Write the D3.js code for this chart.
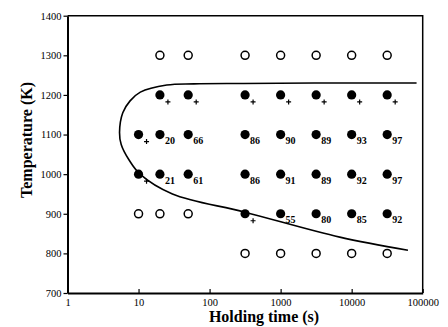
<!DOCTYPE html>
<html>
<head>
<meta charset="utf-8">
<script src="https://cdn.jsdelivr.net/npm/d3@7"></script>
<style>
  body { margin: 0; background: #fff; }
  svg { display: block; font-family: "Liberation Serif", "Times New Roman", serif; }
</style>
</head>
<body>
<div id="chart"></div>
<script>
// holding times (s) of the columns, temperatures (K) of the rows
const times = [10, 20, 50, 316, 1000, 3162, 10000, 31623];
const rowTemps = [1300, 1200, 1100, 1000, 900, 800];
// cell: "" none, "o" open circle, "+" filled with plus, number = filled with value
const rowCells = [
  ["", "o", "o", "o", "o", "o", "o", "o"],
  ["", "+", "+", "+", "+", "+", "+", "+"],
  ["+", "20", "66", "86", "90", "89", "93", "97"],
  ["+", "21", "61", "86", "91", "89", "92", "97"],
  ["o", "o", "o", "+", "55", "80", "85", "92"],
  ["", "", "", "o", "o", "o", "o", "o"]
];

// boundary curve
const curveTime = [82000, 3000, 300, 60, 25, 10.6, 7.6, 6.0, 5.4, 5.7, 7.4, 10.5, 30, 316, 6800, 62000];
const curveTemp = [1230, 1230, 1229, 1228, 1225, 1207, 1185, 1155, 1105, 1075, 1035, 1000, 950, 904, 841, 808];

const xTicks = [1, 10, 100, 1000, 10000, 100000];
const yTicks = [700, 800, 900, 1000, 1100, 1200, 1300, 1400];

const width = 448;
const height = 327;
const margin = { left: 67.5, right: 25.3, top: 15.7, bottom: 34 };

const svg = d3.select("#chart").append("svg")
  .attr("width", width)
  .attr("height", height);

const x = d3.scaleLog().domain([1, 100000]).range([margin.left, width - margin.right]);
const y = d3.scaleLinear().domain([700, 1400]).range([height - margin.bottom, margin.top]);

// frame top / right
svg.append("path")
  .attr("d", `M${x(1)},${y(1400)}H${x(100000)}V${y(700)}`)
  .attr("fill", "none")
  .attr("stroke", "#000")
  .attr("stroke-width", 1.5);

// axes
const xAxis = svg.append("g")
  .attr("transform", `translate(0,${y(700)})`)
  .call(d3.axisBottom(x).tickValues(xTicks).tickFormat(d3.format("d"))
    .tickSizeInner(-4).tickSizeOuter(0).tickPadding(6));
const yAxis = svg.append("g")
  .attr("transform", `translate(${x(1)},0)`)
  .call(d3.axisLeft(y).tickValues(yTicks).tickFormat(d3.format("d"))
    .tickSizeInner(4).tickSizeOuter(0).tickPadding(2));

[xAxis, yAxis].forEach(a => {
  a.select(".domain").attr("stroke-width", 2);
  a.selectAll(".tick line").attr("stroke-width", 1.2);
  a.selectAll(".tick text")
    .attr("font-family", "Liberation Serif")
    .attr("font-size", 10.5)
    .attr("fill", "#000");
});

// titles
svg.append("text")
  .attr("x", 264)
  .attr("y", 322)
  .attr("text-anchor", "middle")
  .attr("font-weight", "bold")
  .attr("font-size", 16)
  .text("Holding time (s)");
svg.append("text")
  .attr("transform", "translate(32,140) rotate(-90)")
  .attr("text-anchor", "middle")
  .attr("font-weight", "bold")
  .attr("font-size", 16)
  .text("Temperature (K)");

// boundary curve
const line = d3.line()
  .x((d, i) => x(curveTime[i]))
  .y((d, i) => y(curveTemp[i]))
  .curve(d3.curveCatmullRom.alpha(0.5));
svg.append("path")
  .attr("d", line(curveTime))
  .attr("fill", "none")
  .attr("stroke", "#000")
  .attr("stroke-width", 1.6);

// points
const cells = [];
rowTemps.forEach((t, r) => {
  times.forEach((h, c) => {
    const v = rowCells[r][c];
    if (v !== "") cells.push({ time: h, temp: t, v: v });
  });
});

const g = svg.append("g");
g.selectAll("circle")
  .data(cells)
  .enter()
  .append("circle")
  .attr("cx", d => x(d.time))
  .attr("cy", d => y(d.temp))
  .attr("r", d => d.v === "o" ? 4 : 4.6)
  .attr("fill", d => d.v === "o" ? "#fff" : "#000")
  .attr("stroke", "#000")
  .attr("stroke-width", d => d.v === "o" ? 1.5 : 0);

// small plus marks
g.selectAll("path.plus")
  .data(cells.filter(d => d.v === "+"))
  .enter()
  .append("path")
  .attr("class", "plus")
  .attr("d", d => {
    const cx = x(d.time) + 8, cy = y(d.temp) + 7;
    return `M${cx - 2.5},${cy}H${cx + 2.5}M${cx},${cy - 2.5}V${cy + 2.5}`;
  })
  .attr("stroke", "#000")
  .attr("stroke-width", 1.2);

g.selectAll("text.val")
  .data(cells.filter(d => d.v !== "+" && d.v !== "o"))
  .enter()
  .append("text")
  .attr("class", "val")
  .attr("x", d => x(d.time) + 5)
  .attr("y", d => y(d.temp) + 9.5)
  .attr("font-size", 10)
  .attr("font-weight", "bold")
  .attr("fill", "#000")
  .text(d => d.v);
</script>
</body>
</html>
